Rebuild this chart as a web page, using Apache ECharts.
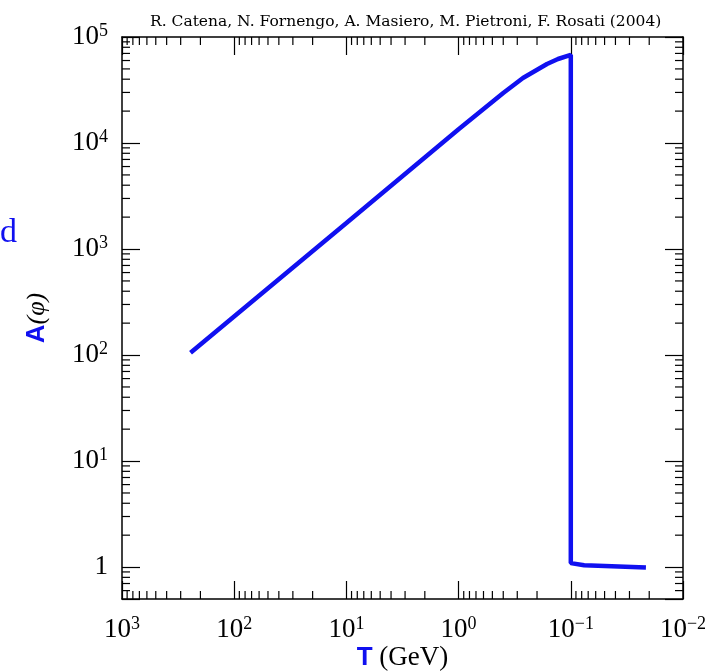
<!DOCTYPE html>
<html>
<head>
<meta charset="utf-8">
<script src="https://cdn.jsdelivr.net/npm/echarts@6/dist/echarts.min.js"></script>
<style>
  html, body { margin: 0; padding: 0; background: #fff; }
  #chart { width: 727px; height: 672px; }
</style>
</head>
<body>
<div id="chart"></div>
<script>
// curve: temperature (GeV) and amplification A(phi)
const tempGeV = [245, 10, 1, 0.40, 0.267, 0.163, 0.130, 0.1, 0.1, 0.076, 0.0214]
const ampli = [105, 1760, 13500, 29600, 41000, 55600, 62000, 67800, 1.09, 1.04, 0.99]

// axis ranges and tick decorations
const xRange = [0.01, 1000]
const yRange = [0.5, 100000]
const minorMult = [2, 3, 4, 5, 6, 7, 8, 9]
const xDecades = [0.01, 0.1, 1, 10, 100]
const yDecades = [1, 10, 100, 1000, 10000]
const yBelowOne = [0.6, 0.7, 0.8, 0.9]

const blue = '#1010f0'
const serif = '"Liberation Serif", "DejaVu Serif", serif'

const xMinor = []
xDecades.forEach(d => minorMult.forEach(m => xMinor.push([m * d, 1])))
const yMinor = yBelowOne.map(v => [1, v])
yDecades.forEach(d => minorMult.forEach(m => yMinor.push([1, m * d])))

function powLabel(v, plainOne) {
  const e = Math.round(Math.log10(v))
  if (Math.abs(v - Math.pow(10, e)) > 1e-9 * Math.pow(10, e)) return ''
  if (plainOne && e === 0) return '{b|1}'
  return '{b|10}{s|' + (e < 0 ? '\u2212' + (-e) : e) + '}'
}

const labelRich = {
  b: { fontFamily: serif, fontSize: 27, color: '#000', lineHeight: 30 },
  s: { fontFamily: serif, fontSize: 18, color: '#000', lineHeight: 18, verticalAlign: 'top' }
}

function tickRender(horizontal) {
  return function (params, api) {
    const cs = params.coordSys
    const len = 8
    const st = { stroke: '#000', lineWidth: 1.2 }
    if (horizontal) {
      const x = api.coord([api.value(0), 1])[0]
      const yb = cs.y + cs.height
      return {
        type: 'group',
        children: [
          { type: 'line', shape: { x1: x, y1: yb, x2: x, y2: yb - len }, style: st },
          { type: 'line', shape: { x1: x, y1: cs.y, x2: x, y2: cs.y + len }, style: st }
        ]
      }
    }
    const y = api.coord([1, api.value(1)])[1]
    const xr = cs.x + cs.width
    return {
      type: 'group',
      children: [
        { type: 'line', shape: { x1: cs.x, y1: y, x2: cs.x + len, y2: y }, style: st },
        { type: 'line', shape: { x1: xr, y1: y, x2: xr - len, y2: y }, style: st }
      ]
    }
  }
}

const frameLine = { show: true, lineStyle: { color: '#000', width: 1.5 } }
const majorTick = { show: true, inside: true, length: 18, lineStyle: { color: '#000', width: 1.2 } }

const chart = echarts.init(document.getElementById('chart'))
chart.setOption({
  animation: false,
  backgroundColor: '#fff',
  title: {
    text: 'R. Catena, N. Fornengo, A. Masiero, M. Pietroni, F. Rosati (2004)',
    left: 145,
    top: 9,
    textStyle: { fontFamily: '"DejaVu Serif", serif', fontSize: 15.5, fontWeight: 'normal', color: '#000' }
  },
  grid: { left: 122, right: 44, top: 37, bottom: 73, outerBoundsMode: 'none' },
  xAxis: [
    {
      type: 'log',
      logBase: 10,
      min: xRange[0],
      max: xRange[1],
      inverse: true,
      axisLine: frameLine,
      axisTick: majorTick,
      splitLine: { show: false },
      axisLabel: { margin: 16, formatter: v => powLabel(v, false), rich: labelRich },
      name: '{t|T}{g| (GeV)}',
      nameLocation: 'middle',
      nameGap: 45,
      nameMoveOverlap: false,
      nameTextStyle: {
        rich: {
          t: { fontFamily: '"Liberation Sans", Arial, sans-serif', fontWeight: 'bold', fontSize: 26, color: blue },
          g: { fontFamily: serif, fontSize: 27, color: '#000' }
        }
      }
    },
    {
      type: 'log',
      logBase: 10,
      min: xRange[0],
      max: xRange[1],
      inverse: true,
      position: 'top',
      axisLine: frameLine,
      axisTick: majorTick,
      axisLabel: { show: false },
      splitLine: { show: false }
    }
  ],
  yAxis: [
    {
      type: 'log',
      logBase: 10,
      min: yRange[0],
      max: yRange[1],
      axisLine: frameLine,
      axisTick: majorTick,
      splitLine: { show: false },
      axisLabel: { margin: 14, formatter: v => powLabel(v, true), rich: labelRich },
      name: '{a|A}{p|(\u03c6)}',
      nameLocation: 'middle',
      nameGap: 72,
      nameMoveOverlap: false,
      nameRotate: 90,
      nameTextStyle: {
        rich: {
          a: { fontFamily: '"Liberation Sans", Arial, sans-serif', fontWeight: 'bold', fontSize: 26, color: blue },
          p: { fontFamily: serif, fontStyle: 'italic', fontSize: 26, color: '#000' }
        }
      }
    },
    {
      type: 'log',
      logBase: 10,
      min: yRange[0],
      max: yRange[1],
      position: 'right',
      axisLine: frameLine,
      axisTick: majorTick,
      axisLabel: { show: false },
      splitLine: { show: false }
    }
  ],
  graphic: [
    {
      type: 'text',
      left: 0,
      top: 216,
      style: { text: 'd', font: '34px ' + serif, fill: blue }
    }
  ],
  series: [
    {
      type: 'line',
      data: tempGeV.map((t, i) => [t, ampli[i]]),
      showSymbol: false,
      lineStyle: { color: blue, width: 4.5 },
      z: 3
    },
    {
      type: 'custom',
      data: xMinor,
      renderItem: tickRender(true),
      silent: true,
      clip: false,
      z: 4
    },
    {
      type: 'custom',
      data: yMinor,
      renderItem: tickRender(false),
      silent: true,
      clip: false,
      z: 4
    }
  ]
})

window.addEventListener('resize', () => chart.resize())
</script>
</body>
</html>
